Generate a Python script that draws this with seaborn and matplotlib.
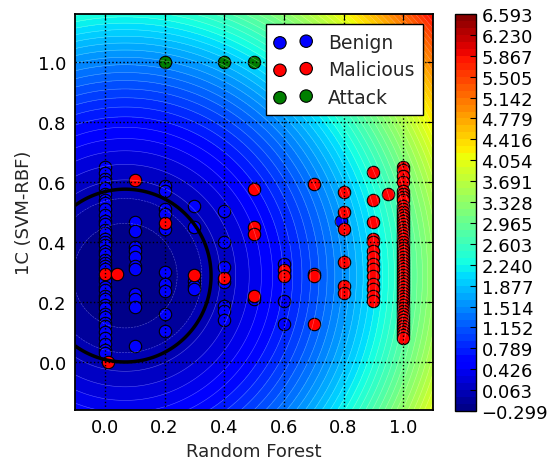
import numpy as np
import pandas as pd
import matplotlib
matplotlib.use("Agg")
import matplotlib.pyplot as plt
import seaborn as sns

# ---------------- data ----------------
benign_x = ([0.0] * 40 +
            [0.1] * 11 +
            [0.2] * 10 +
            [0.3] * 5 +
            [0.4] * 7 +
            [0.5] +
            [0.6] * 3 +
            [0.79])
benign_y = ([0.65, 0.63, 0.61, 0.60, 0.58, 0.56, 0.54, 0.53, 0.51, 0.49,
             0.47, 0.46, 0.44, 0.43, 0.41, 0.40, 0.39, 0.37, 0.36, 0.34,
             0.33, 0.32, 0.31, 0.28, 0.27, 0.25, 0.24, 0.22, 0.21, 0.19,
             0.18, 0.16, 0.15, 0.13, 0.12, 0.10, 0.08, 0.06, 0.04, 0.03] +
            [0.466, 0.438, 0.382, 0.371, 0.349, 0.321, 0.31, 0.226, 0.21, 0.182, 0.054] +
            [0.587, 0.57, 0.51, 0.493, 0.443, 0.299, 0.26, 0.238, 0.16, 0.105] +
            [0.52, 0.449, 0.271, 0.255, 0.243] +
            [0.505, 0.401, 0.316, 0.266, 0.188, 0.171, 0.141] +
            [0.21] +
            [0.327, 0.204, 0.126] +
            [0.47])

malicious_x = ([0.0, 0.04, 0.01, 0.1, 0.2, 0.3, 0.4] +
               [0.5] * 4 +
               [0.6] * 2 +
               [0.7] * 4 +
               [0.8] * 6 +
               [0.9] * 14 +
               [0.95] +
               [1.0] * 53)
malicious_y = ([0.293, 0.293, 0.0, 0.607, 0.462, 0.29, 0.279] +
               [0.577, 0.449, 0.427, 0.219] +
               [0.306, 0.286] +
               [0.593, 0.293, 0.286, 0.126] +
               [0.566, 0.501, 0.443, 0.334, 0.252, 0.23] +
               [0.632, 0.541, 0.468, 0.41, 0.399, 0.371, 0.349, 0.327, 0.31,
                0.288, 0.26, 0.243, 0.221, 0.204] +
               [0.56] +
               [0.65, 0.64, 0.62, 0.60, 0.57, 0.56, 0.55, 0.54, 0.52, 0.51,
                0.50, 0.49, 0.48, 0.47, 0.46, 0.45, 0.44, 0.43, 0.42, 0.41,
                0.40, 0.39, 0.38, 0.37, 0.36, 0.35, 0.34, 0.33, 0.32, 0.31,
                0.30, 0.29, 0.28, 0.27, 0.26, 0.25, 0.24, 0.23, 0.22, 0.21,
                0.20, 0.19, 0.18, 0.17, 0.16, 0.15, 0.14, 0.13, 0.12, 0.11,
                0.10, 0.09, 0.08])

attack_x = [0.2, 0.4, 0.5]
attack_y = [1.0, 1.0, 1.0]

# decision surface parameters (quadratic approximation of the score field)
field_center = (0.068, 0.288)
field_gain = 3.39
field_radius = 0.288

level_min, level_max, n_levels = -0.299, 6.593, 58
cbar_ticks = [-0.299, 0.063, 0.426, 0.789, 1.152, 1.514, 1.877, 2.240, 2.603,
              2.965, 3.328, 3.691, 4.054, 4.416, 4.779, 5.142, 5.505, 5.867,
              6.230, 6.593]
x_ticks = [0.0, 0.2, 0.4, 0.6, 0.8, 1.0]
y_ticks = [0.0, 0.2, 0.4, 0.6, 0.8, 1.0]
x_lim = (-0.1, 1.1)
y_lim = (-0.16, 1.16)

# ---------------- style ----------------
sns.set_style("white")
plt.rcParams.update({
    "font.family": ["DejaVu Sans"],
    "font.size": 13,
    "xtick.direction": "in",
    "ytick.direction": "in",
    "xtick.top": True,
    "ytick.right": True,
    "xtick.major.size": 4,
    "ytick.major.size": 4,
    "xtick.major.pad": 6,
    "ytick.major.pad": 6,
    "xtick.color": "black",
    "ytick.color": "black",
    "axes.edgecolor": "black",
    "axes.linewidth": 1.3,
    "axes.axisbelow": False,
    "grid.color": "black",
    "grid.linestyle": ":",
    "grid.linewidth": 1.0,
    "axes.unicode_minus": True,
})

fig = plt.figure(figsize=(5.52, 4.64), dpi=100)
ax = fig.add_axes([75 / 552, 53 / 464, 358 / 552, 396 / 464])
cax = fig.add_axes([455 / 552, 52 / 464, 21 / 552, 397 / 464])

gx = np.linspace(x_lim[0], x_lim[1], 400)
gy = np.linspace(y_lim[0], y_lim[1], 400)
XX, YY = np.meshgrid(gx, gy)
ZZ = field_gain * ((XX - field_center[0]) ** 2 + (YY - field_center[1]) ** 2) \
    - field_gain * field_radius ** 2

levels = np.linspace(level_min, level_max, n_levels)
cf = ax.contourf(XX, YY, ZZ, levels=levels, cmap="jet")
ax.contour(XX, YY, ZZ, levels=levels, colors="white", linewidths=0.4, alpha=0.35)
ax.contour(XX, YY, ZZ, levels=[0], colors="black", linewidths=2.5)

common = dict(s=80, edgecolor="black", linewidth=0.8, ax=ax, legend=False)
sns.scatterplot(x=benign_x, y=benign_y, color="#0000ff", label="Benign", **common)
sns.scatterplot(x=malicious_x, y=malicious_y, color="#ff0000", label="Malicious", **common)
sns.scatterplot(x=attack_x, y=attack_y, color="#007f00", label="Attack", **common)

ax.set_xlim(*x_lim)
ax.set_ylim(*y_lim)
ax.set_xticks(x_ticks)
ax.set_yticks(y_ticks)
ax.set_xticklabels([f"{v:.1f}" for v in x_ticks])
ax.set_yticklabels([f"{v:.1f}" for v in y_ticks])
ax.grid(True)
ax.set_xlabel("Random Forest", fontsize=13)
ax.set_ylabel("1C (SVM-RBF)", fontsize=13)
for s in ax.spines.values():
    s.set_visible(True)
    s.set_color("black")

leg = ax.legend(loc="upper right", scatterpoints=2, fancybox=False, framealpha=1,
                edgecolor="black", fontsize=13.5, borderaxespad=0.55,
                handlelength=2.0, handletextpad=0.85, labelspacing=0.45,
                borderpad=0.45)
leg.get_frame().set_linewidth(1.0)

cbar = fig.colorbar(cf, cax=cax, ticks=cbar_ticks)
cbar.ax.set_yticklabels([f"{v:.3f}".replace("-", "\u2212") for v in cbar_ticks])
cbar.ax.tick_params(direction="in", length=4, labelsize=13, right=True, left=False, pad=4)
cbar.outline.set_edgecolor("black")
cbar.outline.set_linewidth(1.0)

fig.savefig("out.png", dpi=100)
